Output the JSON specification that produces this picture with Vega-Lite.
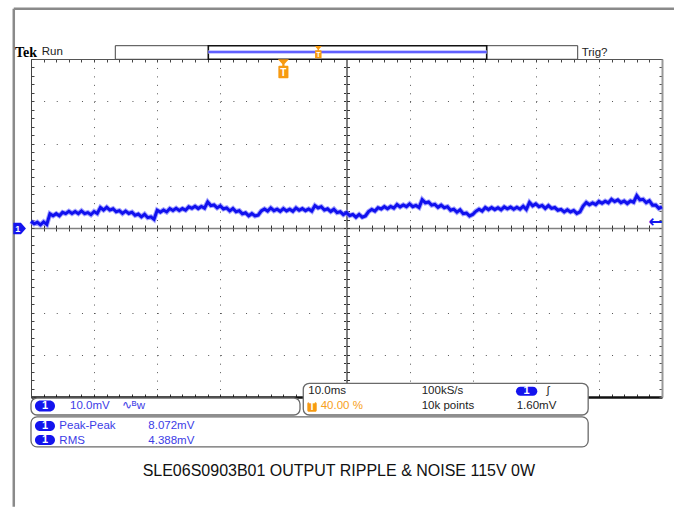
{
"$schema":"https://vega.github.io/schema/vega-lite/v6.json",
"width":631,"height":338,"autosize":"none",
"padding":{"left":31,"top":59,"right":12,"bottom":110},
"background":"white",
"config":{"view":{"stroke":null},"font":"Liberation Sans","axis":{"labels":false,"title":null}},
"datasets":{
"trace":[{"x":-40,"y":1.6},{"x":-39.5,"y":1.0},{"x":-39,"y":1.35},{"x":-38.5,"y":0.75},{"x":-38,"y":1.45},{"x":-37.5,"y":0.85},{"x":-37,"y":3.35},{"x":-36.5,"y":2.9},{"x":-36,"y":3.4},{"x":-35.5,"y":2.9},{"x":-35,"y":3.7},{"x":-34.5,"y":3.4},{"x":-34,"y":3.95},{"x":-33.5,"y":3.45},{"x":-33,"y":3.9},{"x":-32.5,"y":3.4},{"x":-32,"y":4.05},{"x":-31.5,"y":3.4},{"x":-31,"y":3.65},{"x":-30.5,"y":3.15},{"x":-30,"y":3.9},{"x":-29.5,"y":3.45},{"x":-29,"y":4.85},{"x":-28.5,"y":4.25},{"x":-28,"y":4.9},{"x":-27.5,"y":4.25},{"x":-27,"y":4.55},{"x":-26.5,"y":3.85},{"x":-26,"y":4.1},{"x":-25.5,"y":3.45},{"x":-25,"y":4.0},{"x":-24.5,"y":3.45},{"x":-24,"y":3.75},{"x":-23.5,"y":3.0},{"x":-23,"y":3.3},{"x":-22.5,"y":2.65},{"x":-22,"y":3.25},{"x":-21.5,"y":2.45},{"x":-21,"y":2.65},{"x":-20.5,"y":2.05},{"x":-20,"y":4.2},{"x":-19.5,"y":3.75},{"x":-19,"y":4.25},{"x":-18.5,"y":3.8},{"x":-18,"y":4.6},{"x":-17.5,"y":4.15},{"x":-17,"y":4.65},{"x":-16.5,"y":4.15},{"x":-16,"y":4.6},{"x":-15.5,"y":4.2},{"x":-15,"y":5.0},{"x":-14.5,"y":4.65},{"x":-14,"y":5.15},{"x":-13.5,"y":4.6},{"x":-13,"y":5.1},{"x":-12.5,"y":4.7},{"x":-12,"y":6.15},{"x":-11.5,"y":5.3},{"x":-11,"y":5.45},{"x":-10.5,"y":4.75},{"x":-10,"y":5.25},{"x":-9.5,"y":4.5},{"x":-9,"y":4.75},{"x":-8.5,"y":4.05},{"x":-8,"y":4.6},{"x":-7.5,"y":3.85},{"x":-7,"y":4.1},{"x":-6.5,"y":3.35},{"x":-6,"y":3.6},{"x":-5.5,"y":2.9},{"x":-5,"y":3.4},{"x":-4.5,"y":2.85},{"x":-4,"y":3.05},{"x":-3.5,"y":4.05},{"x":-3,"y":4.5},{"x":-2.5,"y":4.0},{"x":-2,"y":4.75},{"x":-1.5,"y":4.1},{"x":-1,"y":4.45},{"x":-0.5,"y":3.95},{"x":0,"y":4.6},{"x":0.5,"y":4.05},{"x":1,"y":4.45},{"x":1.5,"y":3.95},{"x":2,"y":4.75},{"x":2.5,"y":4.2},{"x":3,"y":4.6},{"x":3.5,"y":4.1},{"x":4,"y":4.5},{"x":4.5,"y":4.0},{"x":5,"y":5.3},{"x":5.5,"y":4.75},{"x":6,"y":5.05},{"x":6.5,"y":4.25},{"x":7,"y":4.55},{"x":7.5,"y":3.9},{"x":8,"y":4.45},{"x":8.5,"y":3.65},{"x":9,"y":3.85},{"x":9.5,"y":3.15},{"x":10,"y":3.65},{"x":10.5,"y":2.95},{"x":11,"y":3.2},{"x":11.5,"y":2.55},{"x":12,"y":3.2},{"x":12.5,"y":2.55},{"x":13,"y":2.85},{"x":13.5,"y":3.9},{"x":14,"y":4.4},{"x":14.5,"y":4.0},{"x":15,"y":4.8},{"x":15.5,"y":4.5},{"x":16,"y":5.05},{"x":16.5,"y":4.55},{"x":17,"y":5.1},{"x":17.5,"y":4.7},{"x":18,"y":5.55},{"x":18.5,"y":5.0},{"x":19,"y":5.45},{"x":19.5,"y":5.05},{"x":20,"y":5.7},{"x":20.5,"y":5.05},{"x":21,"y":5.35},{"x":21.5,"y":4.85},{"x":22,"y":6.7},{"x":22.5,"y":5.95},{"x":23,"y":6.15},{"x":23.5,"y":5.4},{"x":24,"y":5.6},{"x":24.5,"y":4.9},{"x":25,"y":5.4},{"x":25.5,"y":4.8},{"x":26,"y":5.05},{"x":26.5,"y":4.2},{"x":27,"y":4.45},{"x":27.5,"y":3.75},{"x":28,"y":4.3},{"x":28.5,"y":3.4},{"x":29,"y":3.55},{"x":29.5,"y":2.85},{"x":30,"y":3.2},{"x":30.5,"y":3.95},{"x":31,"y":4.45},{"x":31.5,"y":4.0},{"x":32,"y":4.85},{"x":32.5,"y":4.35},{"x":33,"y":4.85},{"x":33.5,"y":4.35},{"x":34,"y":4.8},{"x":34.5,"y":4.3},{"x":35,"y":5.0},{"x":35.5,"y":4.55},{"x":36,"y":4.95},{"x":36.5,"y":4.45},{"x":37,"y":4.9},{"x":37.5,"y":4.45},{"x":38,"y":5.15},{"x":38.5,"y":4.4},{"x":39,"y":6.05},{"x":39.5,"y":5.25},{"x":40,"y":5.7},{"x":40.5,"y":5.05},{"x":41,"y":5.35},{"x":41.5,"y":4.65},{"x":42,"y":5.3},{"x":42.5,"y":4.65},{"x":43,"y":4.85},{"x":43.5,"y":4.2},{"x":44,"y":4.4},{"x":44.5,"y":3.8},{"x":45,"y":4.3},{"x":45.5,"y":3.8},{"x":46,"y":4.15},{"x":46.5,"y":3.45},{"x":47,"y":3.8},{"x":47.5,"y":5.2},{"x":48,"y":6.05},{"x":48.5,"y":5.5},{"x":49,"y":5.95},{"x":49.5,"y":5.55},{"x":50,"y":6.3},{"x":50.5,"y":5.85},{"x":51,"y":6.35},{"x":51.5,"y":5.95},{"x":52,"y":6.8},{"x":52.5,"y":6.25},{"x":53,"y":6.65},{"x":53.5,"y":6.0},{"x":54,"y":6.4},{"x":54.5,"y":5.8},{"x":55,"y":6.4},{"x":55.5,"y":6.1},{"x":56,"y":7.65},{"x":56.5,"y":6.65},{"x":57,"y":6.8},{"x":57.5,"y":6.0},{"x":58,"y":6.45},{"x":58.5,"y":5.4},{"x":59,"y":5.45},{"x":59.5,"y":4.65},{"x":60,"y":5.0}],
"frame":[{"x":-42.73,"y":51.9,"x2":-42.73,"y2":-66.0},{"x":-42.73,"y":51.9,"x2":61.9,"y2":51.9}],
"recOuter":[{"x":-26.64,"x2":46.64,"y":43.15,"y2":39.93}],
"recInner":[{"x":-11.9,"x2":32.22,"y":43.15,"y2":39.93}],
"recLine":[{"x":-11.9,"x2":32.22,"y":41.66}],
"boxes":[{"x":-40,"x2":2.63,"y":-40.24,"y2":-44.26},{"x":3.15,"x2":48.3,"y":-36.76,"y2":-44.26},{"x":-40,"x2":48.3,"y":-44.7,"y2":-51.8}],
"pills":[{"x":-39.37,"x2":-36.2,"y":-40.83,"y2":-43.43},{"x":-39.37,"x2":-36.2,"y":-45.68,"y2":-48.05},{"x":-39.37,"x2":-36.2,"y":-48.99,"y2":-51.36},{"x":36.86,"x2":40.24,"y":-37.56,"y2":-39.69}],
"pillText":[{"x":-37.78,"y":-42.13,"text":"1"},{"x":-37.78,"y":-46.87,"text":"1"},{"x":-37.78,"y":-50.18,"text":"1"},{"x":38.55,"y":-38.63,"text":"1"}],
"tBox":[{"x":3.79,"x2":5.28,"y":-41.26,"y2":-43.48}],
"tBigMarker":[{"x":0,"y":37.7}],
"tSmallMarker":[{"x":5.53,"y":41.61}],
"tBigText":[{"x":0,"y":36.7,"text":"T"},{"x":4.53,"y":-42.4,"text":"T"}],
"tSmallText":[{"x":5.53,"y":41.0,"text":"T"}],
"chMarker":[{"x":-41.8,"y":-0.12}],
"chText":[{"x":-42.1,"y":-0.12,"text":"1"}],
"arrow":[{"x":59.0,"y":1.5,"text":"←"}],
"darkText":[{"x":-38.3,"y":41.54,"text":"Run"},{"x":47.27,"y":41.35,"text":"Trig?"},{"x":3.95,"y":-38.58,"text":"10.0ms"},{"x":21.92,"y":-38.58,"text":"100kS/s"},{"x":21.92,"y":-42.2,"text":"10k points"},{"x":36.97,"y":-42.2,"text":"1.60mV"},{"x":41.73,"y":-38.58,"text":"ʃ"}],
"blueText":[{"x":-33.82,"y":-42.08,"text":"10.0mV"},{"x":-25.6,"y":-42.08,"text":"∿ᴮw"},{"x":-35.51,"y":-46.82,"text":"Peak-Peak"},{"x":-21.41,"y":-46.82,"text":"8.072mV"},{"x":-35.51,"y":-50.3,"text":"RMS"},{"x":-21.41,"y":-50.3,"text":"4.388mV"}],
"orangeText":[{"x":5.91,"y":-42.2,"text":"40.00 %"}],
"tek":[{"x":-42.54,"y":41.42,"text":"Tek"}],
"title":[{"x":8.79,"y":-57.44,"text":"SLE06S0903B01 OUTPUT RIPPLE & NOISE 115V 0W"}]
},
"encoding":{
"x":{"field":"x","type":"quantitative","scale":{"domain":[-40,60],"nice":false,"zero":false},"axis":null},
"y":{"field":"y","type":"quantitative","scale":{"domain":[-40,40],"nice":false,"zero":false},"axis":null}
},
"resolve":{"axis":{"x":"independent","y":"independent"}},
"layer":[
{"data":{"name":"trace"},"mark":{"type":"point","opacity":0},
 "encoding":{
 "x":{"field":"x","type":"quantitative","scale":{"domain":[-40,60],"nice":false,"zero":false},"axis":{"orient":"bottom","values":[-30,-20,-10,10,20,30,40,50],"grid":true,"gridDash":[1,7.45],"gridColor":"#555","gridWidth":1,"domain":false,"ticks":false,"labels":false,"title":null}},
 "y":{"field":"y","type":"quantitative","scale":{"domain":[-40,40],"nice":false,"zero":false},"axis":{"orient":"left","values":[-30,-20,-10,10,20,30],"grid":true,"gridDash":[1,11.62],"gridColor":"#555","gridWidth":1,"domain":false,"ticks":false,"labels":false,"title":null}}}},
{"data":{"name":"trace"},"mark":{"type":"point","opacity":0},
 "encoding":{
 "x":{"field":"x","type":"quantitative","scale":{"domain":[-40,60],"nice":false,"zero":false},"axis":{"orient":"bottom","values":[-40,-38,-36,-34,-32,-30,-28,-26,-24,-22,-20,-18,-16,-14,-12,-10,-8,-6,-4,-2,0,2,4,6,8,10,12,14,16,18,20,22,24,26,28,30,32,34,36,38,40,42,44,46,48,50,52,54,56,58,60],"grid":false,"domain":true,"domainColor":"#111","domainWidth":2.5,"ticks":true,"tickSize":-3,"tickColor":"#333","tickWidth":1,"labels":false,"title":null}},
 "y":{"field":"y","type":"quantitative","scale":{"domain":[-40,40],"nice":false,"zero":false},"axis":{"orient":"left","values":[-40,-38,-36,-34,-32,-30,-28,-26,-24,-22,-20,-18,-16,-14,-12,-10,-8,-6,-4,-2,0,2,4,6,8,10,12,14,16,18,20,22,24,26,28,30,32,34,36,38,40],"grid":false,"domain":true,"domainColor":"#444","domainWidth":1,"ticks":true,"tickSize":-3,"tickColor":"#444","tickWidth":1,"labels":false,"title":null}}}},
{"data":{"name":"trace"},"mark":{"type":"point","opacity":0},
 "encoding":{
 "x":{"field":"x","type":"quantitative","scale":{"domain":[-40,60],"nice":false,"zero":false},"axis":{"orient":"top","values":[-40,-38,-36,-34,-32,-30,-28,-26,-24,-22,-20,-18,-16,-14,-12,-10,-8,-6,-4,-2,0,2,4,6,8,10,12,14,16,18,20,22,24,26,28,30,32,34,36,38,40,42,44,46,48,50,52,54,56,58,60],"grid":false,"domain":true,"domainColor":"#555","domainWidth":1.2,"ticks":true,"tickSize":-3,"tickColor":"#444","tickWidth":1,"labels":false,"title":null}},
 "y":{"field":"y","type":"quantitative","scale":{"domain":[-40,40],"nice":false,"zero":false},"axis":{"orient":"right","values":[-40,-38,-36,-34,-32,-30,-28,-26,-24,-22,-20,-18,-16,-14,-12,-10,-8,-6,-4,-2,0,2,4,6,8,10,12,14,16,18,20,22,24,26,28,30,32,34,36,38,40],"grid":false,"domain":true,"domainColor":"#999","domainWidth":2,"ticks":true,"tickSize":-3,"tickColor":"#555","tickWidth":1,"labels":false,"title":null}}}},
{"data":{"name":"trace"},"mark":{"type":"point","opacity":0},
 "encoding":{
 "x":{"field":"x","type":"quantitative","scale":{"domain":[-40,60],"nice":false,"zero":false},"axis":{"orient":"bottom","offset":-169,"values":[-40,-38,-36,-34,-32,-30,-28,-26,-24,-22,-20,-18,-16,-14,-12,-10,-8,-6,-4,-2,0,2,4,6,8,10,12,14,16,18,20,22,24,26,28,30,32,34,36,38,40,42,44,46,48,50,52,54,56,58,60],"grid":false,"domain":true,"domainColor":"#808080","domainWidth":1.5,"ticks":true,"tickSize":3,"tickColor":"#333","tickWidth":1,"labels":false,"title":null}},
 "y":{"field":"y","type":"quantitative","scale":{"domain":[-40,40],"nice":false,"zero":false},"axis":{"orient":"left","offset":-315.5,"values":[-40,-38,-36,-34,-32,-30,-28,-26,-24,-22,-20,-18,-16,-14,-12,-10,-8,-6,-4,-2,0,2,4,6,8,10,12,14,16,18,20,22,24,26,28,30,32,34,36,38,40],"grid":false,"domain":true,"domainColor":"#808080","domainWidth":2,"ticks":true,"tickSize":3,"tickColor":"#333","tickWidth":1,"labels":false,"title":null}}}},
{"data":{"name":"trace"},"mark":{"type":"point","opacity":0},
 "encoding":{
 "x":{"field":"x","type":"quantitative","scale":{"domain":[-40,60],"nice":false,"zero":false},"axis":{"orient":"top","offset":-169,"values":[-40,-38,-36,-34,-32,-30,-28,-26,-24,-22,-20,-18,-16,-14,-12,-10,-8,-6,-4,-2,0,2,4,6,8,10,12,14,16,18,20,22,24,26,28,30,32,34,36,38,40,42,44,46,48,50,52,54,56,58,60],"grid":false,"domain":false,"ticks":true,"tickSize":3,"tickColor":"#333","tickWidth":1,"labels":false,"title":null}},
 "y":{"field":"y","type":"quantitative","scale":{"domain":[-40,40],"nice":false,"zero":false},"axis":{"orient":"right","offset":-315.5,"values":[-40,-38,-36,-34,-32,-30,-28,-26,-24,-22,-20,-18,-16,-14,-12,-10,-8,-6,-4,-2,0,2,4,6,8,10,12,14,16,18,20,22,24,26,28,30,32,34,36,38,40],"grid":false,"domain":false,"ticks":true,"tickSize":3,"tickColor":"#333","tickWidth":1,"labels":false,"title":null}}}},
{"data":{"name":"frame"},"mark":{"type":"rule","color":"#8a8a8a","strokeWidth":2.5},
 "encoding":{"x2":{"field":"x2"},"y2":{"field":"y2"}}},
{"data":{"name":"recOuter"},"mark":{"type":"rect","fill":"white","stroke":"#444","strokeWidth":1},
 "encoding":{"x2":{"field":"x2"},"y2":{"field":"y2"}}},
{"data":{"name":"recInner"},"mark":{"type":"rect","fill":"white","stroke":"#111","strokeWidth":1.6},
 "encoding":{"x2":{"field":"x2"},"y2":{"field":"y2"}}},
{"data":{"name":"recLine"},"mark":{"type":"rule","color":"#b8b8ff","strokeWidth":3.5},
 "encoding":{"x2":{"field":"x2"}}},
{"data":{"name":"recLine"},"mark":{"type":"rule","color":"#4444ff","strokeWidth":1.3},
 "encoding":{"x2":{"field":"x2"}}},
{"data":{"name":"trace"},"mark":{"type":"line","color":"#7a7aff","strokeWidth":5,"opacity":0.7}},
{"data":{"name":"trace"},"mark":{"type":"line","color":"#1010ee","strokeWidth":3}},
{"data":{"name":"boxes"},"mark":{"type":"rect","fill":"white","stroke":"#6a6a6a","strokeWidth":1.3,"cornerRadius":6},
 "encoding":{"x2":{"field":"x2"},"y2":{"field":"y2"}}},
{"data":{"name":"pills"},"mark":{"type":"rect","fill":"#1414ee","cornerRadius":6},
 "encoding":{"x2":{"field":"x2"},"y2":{"field":"y2"}}},
{"data":{"name":"tBox"},"mark":{"type":"rect","fill":"#f79a10","cornerRadius":1.5},
 "encoding":{"x2":{"field":"x2"},"y2":{"field":"y2"}}},
{"data":{"name":"tBigMarker"},"mark":{"type":"point","filled":true,"opacity":1,"color":"#f79a10","size":361,"strokeWidth":0,"shape":"M-0.58,-1L0.58,-1L0.12,-0.5L0.12,-0.3L0.45,-0.3Q0.53,-0.3 0.53,-0.22L0.53,0.92Q0.53,1 0.45,1L-0.45,1Q-0.53,1 -0.53,0.92L-0.53,-0.22Q-0.53,-0.3 -0.45,-0.3L-0.12,-0.3L-0.12,-0.5Z"}},
{"data":{"name":"tSmallMarker"},"mark":{"type":"point","filled":true,"opacity":1,"color":"#f79a10","size":151,"strokeWidth":0,"shape":"M-0.58,-1L0.58,-1L0.12,-0.5L0.12,-0.3L0.45,-0.3Q0.53,-0.3 0.53,-0.22L0.53,0.92Q0.53,1 0.45,1L-0.45,1Q-0.53,1 -0.53,0.92L-0.53,-0.22Q-0.53,-0.3 -0.45,-0.3L-0.12,-0.3L-0.12,-0.5Z"}},
{"data":{"name":"tBigText"},"mark":{"type":"text","color":"white","fontSize":10,"fontWeight":"bold","align":"center","baseline":"middle"},
 "encoding":{"text":{"field":"text"}}},
{"data":{"name":"tSmallText"},"mark":{"type":"text","color":"white","fontSize":7,"fontWeight":"bold","align":"center","baseline":"middle"},
 "encoding":{"text":{"field":"text"}}},
{"data":{"name":"chMarker"},"mark":{"type":"point","filled":true,"opacity":1,"color":"#1414ee","size":160,"strokeWidth":0,"shape":"M-1,-0.9L0.2,-0.9L1,0L0.2,0.9L-1,0.9Z"}},
{"data":{"name":"chText"},"mark":{"type":"text","color":"white","fontSize":9,"fontWeight":"bold","align":"center","baseline":"middle"},
 "encoding":{"text":{"field":"text"}}},
{"data":{"name":"arrow"},"mark":{"type":"text","color":"#1414ee","fontSize":17,"fontWeight":"bold","font":"DejaVu Sans","align":"center","baseline":"middle"},
 "encoding":{"text":{"field":"text"}}},
{"data":{"name":"pillText"},"mark":{"type":"text","color":"white","fontSize":11,"fontWeight":"bold","align":"center","baseline":"middle"},
 "encoding":{"text":{"field":"text"}}},
{"data":{"name":"darkText"},"mark":{"type":"text","color":"#222","fontSize":11.5,"align":"left","baseline":"middle"},
 "encoding":{"text":{"field":"text"}}},
{"data":{"name":"blueText"},"mark":{"type":"text","color":"#3c3ce6","fontSize":11.5,"align":"left","baseline":"middle"},
 "encoding":{"text":{"field":"text"}}},
{"data":{"name":"orangeText"},"mark":{"type":"text","color":"#f7a020","fontSize":11.5,"align":"left","baseline":"middle"},
 "encoding":{"text":{"field":"text"}}},
{"data":{"name":"tek"},"mark":{"type":"text","color":"#000","fontSize":14,"fontWeight":"bold","font":"Liberation Serif","align":"left","baseline":"middle"},
 "encoding":{"text":{"field":"text"}}},
{"data":{"name":"title"},"mark":{"type":"text","color":"#111","fontSize":16,"align":"center","baseline":"middle"},
 "encoding":{"text":{"field":"text"}}}
]
}
